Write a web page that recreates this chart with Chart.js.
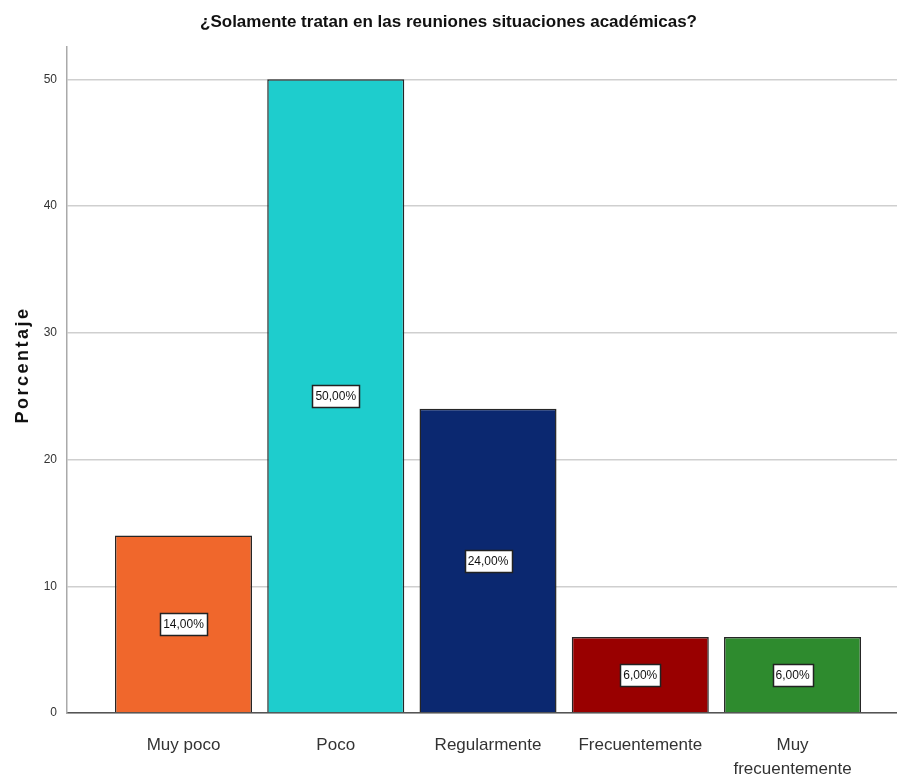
<!DOCTYPE html>
<html lang="es">
<head>
    <meta charset="UTF-8">
    <title>Reuniones</title>
    <script src="https://cdn.jsdelivr.net/npm/chart.js"></script>
    <style>
        body { margin: 0; background: #fff; }
        #wrap { width: 897px; height: 784px; }
    </style>
</head>
<body>
    <div id="wrap">
        <canvas id="grafico" width="897" height="784"></canvas>
    </div>

    <script>
        // Datos
        const categorias = ['Muy poco', 'Poco', 'Regularmente', 'Frecuentemente', ['Muy', 'frecuentemente']];
        const porcentajes = [14, 50, 24, 6, 6];
        const etiquetas = ['14,00%', '50,00%', '24,00%', '6,00%', '6,00%'];
        const colores = ['#F0672C', '#1ECDCD', '#0B2870', '#990000', '#2E8B2E'];
        const ticksY = [0, 10, 20, 30, 40, 50];

        const fuente = '"Liberation Sans", Arial, sans-serif';

        // Etiqueta con caja blanca en el centro de cada barra + titulo del eje Y espaciado
        const etiquetasPlugin = {
            id: 'etiquetas',
            afterDatasetsDraw(chart) {
                const ctx = chart.ctx;
                const meta = chart.getDatasetMeta(0);
                ctx.save();
                ctx.font = '12px ' + fuente;
                ctx.textAlign = 'center';
                ctx.textBaseline = 'middle';
                meta.data.forEach((bar, i) => {
                    const cy = (bar.y + bar.base) / 2;
                    const w = Math.round(ctx.measureText(etiquetas[i]).width + 6);
                    const h = 22;
                    const x0 = Math.round(bar.x - w / 2) + 0.5;
                    const y0 = Math.round(cy - h / 2) + 0.5;
                    ctx.fillStyle = '#ffffff';
                    ctx.fillRect(x0, y0, w, h);
                    ctx.strokeStyle = '#222222';
                    ctx.lineWidth = 1.5;
                    ctx.strokeRect(x0, y0, w, h);
                    ctx.fillStyle = '#111111';
                    ctx.fillText(etiquetas[i], bar.x, cy + 1);
                });

                // titulo del eje Y
                ctx.translate(23, 365);
                ctx.rotate(-Math.PI / 2);
                ctx.font = 'bold 18px ' + fuente;
                ctx.letterSpacing = '2.5px';
                ctx.fillStyle = '#111';
                ctx.fillText('Porcentaje', 0, 0);
                ctx.restore();
            }
        };

        const ctx = document.getElementById('grafico').getContext('2d');
        new Chart(ctx, {
            type: 'bar',
            data: {
                datasets: [{
                    data: porcentajes.map((v, i) => ({ x: i, y: v })),
                    backgroundColor: colores,
                    borderColor: '#262626',
                    borderWidth: 1.5,
                    barPercentage: 0.9,
                    categoryPercentage: 1
                }]
            },
            options: {
                responsive: false,
                animation: false,
                layout: { padding: { left: 0, right: 0, top: 0, bottom: 0 } },
                plugins: {
                    legend: { display: false },
                    tooltip: { enabled: false },
                    title: {
                        display: true,
                        text: '¿Solamente tratan en las reuniones situaciones académicas?',
                        color: '#111',
                        font: { family: fuente, size: 17, weight: 'bold' },
                        padding: { top: 12, bottom: 14 }
                    }
                },
                scales: {
                    x: {
                        type: 'linear',
                        offset: false,
                        min: -0.765,
                        max: 4.686,
                        afterBuildTicks: s => { s.ticks = categorias.map((c, i) => ({ value: i })); },
                        grid: { display: false, drawTicks: false },
                        border: { color: '#555', width: 1.5 },
                        ticks: {
                            autoSkip: false,
                            maxRotation: 0,
                            padding: 21,
                            color: '#333',
                            font: { family: fuente, size: 17, lineHeight: 1.38 },
                            callback: v => categorias[v]
                        },
                        afterFit: s => { s.height = 71; }
                    },
                    y: {
                        min: 0,
                        max: 52.6,
                        afterBuildTicks: s => { s.ticks = ticksY.map(v => ({ value: v })); },
                        grid: { color: '#cfcfcf', lineWidth: 1.5, drawTicks: false },
                        border: { color: '#aaaaaa', width: 1.5 },
                        ticks: {
                            padding: 10,
                            color: '#333',
                            font: { family: fuente, size: 12 }
                        },
                        afterFit: s => { s.width = 67; }
                    }
                }
            },
            plugins: [etiquetasPlugin]
        });
    </script>
</body>
</html>
